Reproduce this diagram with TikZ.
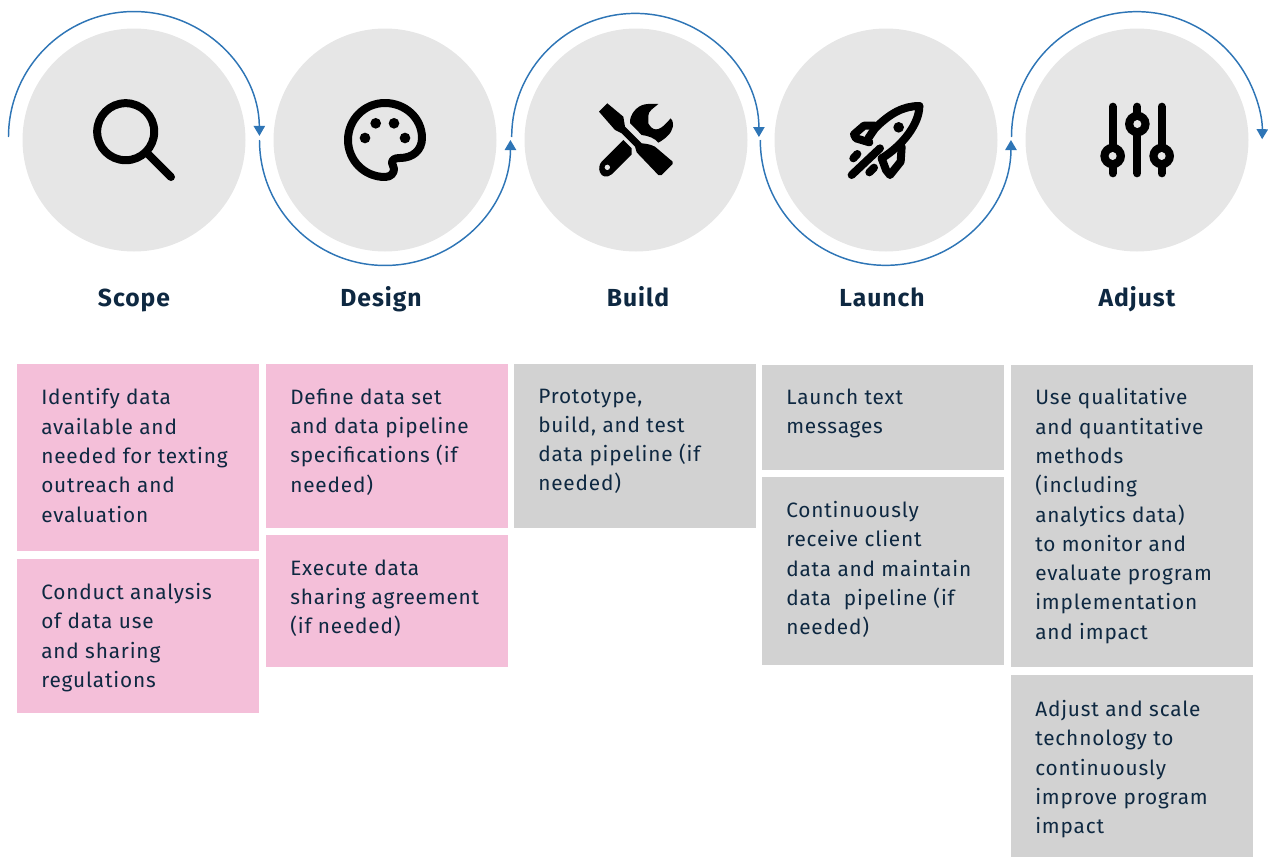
\documentclass[tikz,border=0pt]{standalone}
\usepackage{fontspec}
\setmainfont{Fira Sans}[LetterSpace=4]
\usetikzlibrary{arrows.meta}
\definecolor{circ}{HTML}{E6E6E6}
\definecolor{pinkb}{HTML}{F4BFD9}
\definecolor{grayb}{HTML}{D2D2D2}
\definecolor{arcb}{HTML}{2E75B6}
\definecolor{navy}{HTML}{0E2841}
\tikzset{
  disc/.style={circle,fill=circ,minimum size=167.25pt,inner sep=0pt,draw=none},
  pinkbox/.style={fill=pinkb,anchor=north west,inner sep=0pt,minimum width=181.5pt},
  graybox/.style={fill=grayb,anchor=north west,inner sep=0pt,minimum width=181.5pt},
  txt/.style={anchor=north west,inner sep=0pt,text=navy,align=left,font=\fontsize{15.6pt}{21.94pt}\selectfont,execute at begin node={\rule{0pt}{16pt}}},
  title/.style={text=navy,inner sep=0pt,anchor=base,font=\fontsize{18.5pt}{20pt}\selectfont\bfseries},
  flow/.style={draw=arcb,line width=1.1pt,-{Triangle[length=7.5pt,width=8.5pt]}},
  ico/.style={line width=6pt,line cap=round,line join=round,draw=black},
  rkt/.style={line width=6pt,line cap=round,line join=round,draw=black}
}
\begin{document}
\begin{tikzpicture}[x=0.75pt,y=-0.75pt]
\useasboundingbox (0,0) rectangle (1268,857);
% discs
\node[disc] (c1) at (134,140) {};
\node[disc] (c2) at (385,140) {};
\node[disc] (c3) at (636,140) {};
\node[disc] (c4) at (886,140) {};
\node[disc] (c5) at (1137,140) {};
% arcs
\coordinate (a0) at (8.5,137);
\coordinate (b0) at (259.5,140);
\coordinate (d0) at (511.7,137);
\coordinate (f0) at (760.3,140);
\coordinate (g0) at (1011.5,137);
\draw[flow] (a0) arc[start angle=180,end angle=0.5,radius=94.1pt];
\draw[flow] (b0) arc[start angle=180,end angle=360,radius=94.1pt];
\draw[flow] (d0) arc[start angle=180,end angle=0,radius=92.7pt];
\draw[flow] (f0) arc[start angle=180,end angle=360,radius=94pt];
\draw[flow] (g0) arc[start angle=180,end angle=-1,radius=94pt];
% magnifier
\draw[ico] (125.7,131.7) circle[radius=21.4pt];
\draw[ico] (147,153) -- (171,177);
% palette
\draw[ico] (400,158) .. controls (413,158) and (422,150) .. (422,138)
  .. controls (422,118) and (405,103) .. (385,103)
  .. controls (364,103) and (348,120) .. (348,140)
  .. controls (348,160) and (364,177) .. (385,177)
  .. controls (391,177) and (394,173) .. (394,169)
  .. controls (394,166) and (392,165) .. (392,163)
  .. controls (392,160) and (394,158) .. (400,158) -- cycle;
\foreach \p in {(375.7,123.3),(394,123.3),(365,138),(405,138)} \fill[black] \p circle[radius=4pt];
% tools
\begin{scope}[shift={(590,95)},x=0.25pt,y=-0.25pt]
\fill[black] (27,50) -- (52,25) -- (100,65) -- (105,95) -- (155,145) .. controls (165,146) and (180,147) .. (195,155) -- (248,200) -- (248,207) -- (215,240) -- (205,240) -- (140,172) -- (135,155) -- (95,115) -- (75,105) -- cycle;
\fill[black] (100,135) -- (125,160) -- (125,178) -- (65,238) .. controls (50,250) and (35,245) .. (30,232) .. controls (25,220) and (28,208) .. (35,200) -- cycle;
\fill[circ] (52,217) circle[radius=2pt];
\fill[black] (205,27) .. controls (190,40) and (175,48) .. (175,62) -- (175,85) .. controls (180,95) and (188,103) .. (197,103) .. controls (207,104) and (218,98) .. (242,70) .. controls (250,78) and (250,90) .. (248,97) .. controls (245,115) and (225,132) .. (205,143) .. controls (195,130) and (175,122) .. (155,120) -- (120,84) .. controls (118,60) and (140,32) .. (165,28) .. controls (178,26) and (192,26) .. cycle;
\end{scope}
% rocket
\begin{scope}[shift={(840,95)},x=0.25pt,y=-0.25pt]
\draw[rkt] (238,33) .. controls (190,33) and (150,55) .. (105,100) -- (86,128);
\draw[rkt] (238,33) .. controls (238,85) and (190,150) .. (125,190);
\draw[rkt] (105,92) -- (72,92) -- (42,118) -- (48,130) -- (88,142);
\draw[rkt] (185,155) -- (182,200) -- (150,240) -- (138,225) -- (125,190);
\fill[black] (176,97) circle[radius=4pt];
\draw[rkt] (35,240) -- (120,160);
\draw[rkt] (40,190) -- (52,177);
\draw[rkt] (88,232) -- (102,218);
\end{scope}
% sliders
\begin{scope}[shift={(1080,80)},x=0.25pt,y=-0.25pt]
\foreach \sx/\sy in {98/228,172/132,245/228}{
  \draw[line width=6pt,line cap=round] (\sx,80) -- (\sx,280);
  \fill[black] (\sx,\sy) circle[radius=9.25pt];
  \fill[circ] (\sx,\sy) circle[radius=3pt];
}
\end{scope}
% titles
\node[title] (s1) at (134,306) {Scope};
\node[title] (s2) at (381,306) {Design};
\node[title] (s3) at (638,306) {Build};
\node[title] (s4) at (882,306) {Launch};
\node[title] (s5) at (1137,306) {Adjust};
% boxes
\node[pinkbox,minimum height=140.25pt] (b1) at (17,364) {};
\node[pinkbox,minimum height=115.5pt] (b2) at (17,559) {};
\node[pinkbox,minimum height=123pt] (b3) at (266,364) {};
\node[pinkbox,minimum height=99pt] (b4) at (266,535) {};
\node[graybox,minimum height=123pt] (b5) at (514,364) {};
\node[graybox,minimum height=78.75pt] (b6) at (762,365) {};
\node[graybox,minimum height=141pt] (b7) at (762,477) {};
\node[graybox,minimum height=226.5pt] (b8) at (1011,365) {};
\node[graybox,minimum height=136.5pt] (b9) at (1011,675) {};
% texts
\node[txt] (t1) at (41,388.5) {Identify data\\available and\\needed for texting\\outreach and\\evaluation};
\node[txt] (t2) at (41,583) {Conduct analysis\\of data use\\and sharing\\regulations};
\node[txt] (t3) at (290,388.5) {Define data set\\and data pipeline\\specifications (if\\needed)};
\node[txt] (t4) at (290,559.3) {Execute data\\sharing agreement\\(if needed)};
\node[txt] (t5) at (538,388.5) {Prototype,\\build, and test\\data pipeline (if\\needed)};
\node[txt] (t6) at (786,388.5) {Launch text\\messages};
\node[txt] (t7) at (786,501) {Continuously\\receive client\\data and maintain\\data~~pipeline (if\\needed)};
\node[txt] (t8) at (1035,388.5) {Use qualitative\\and quantitative\\methods\\(including\\analytics data)\\to monitor and\\evaluate program\\implementation\\and impact};
\node[txt] (t9) at (1035,700) {Adjust and scale\\technology to\\continuously\\improve program\\impact};
\end{tikzpicture}
\end{document}
